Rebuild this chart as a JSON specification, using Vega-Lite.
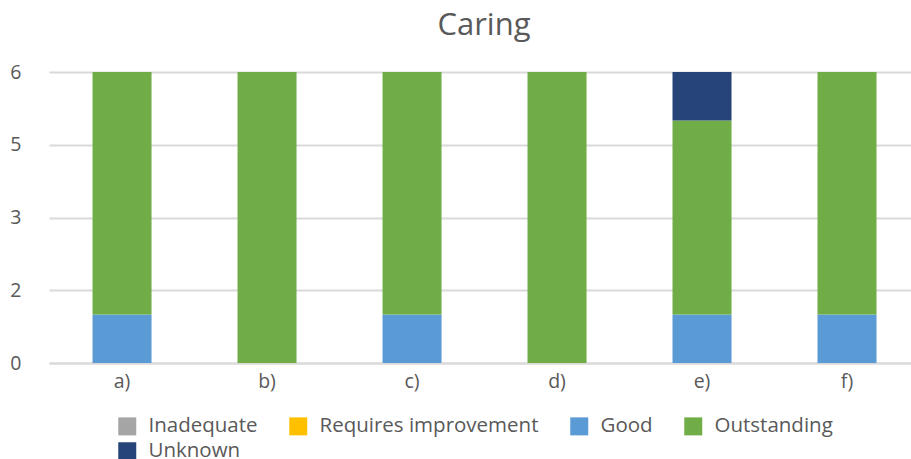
{
  "$schema": "https://vega.github.io/schema/vega-lite/v6.json",
  "width": 862,
  "height": 291,
  "autosize": {"type": "none"},
  "padding": {"left": 49, "top": 72, "right": 0, "bottom": 96},
  "background": "white",
  "title": {
    "text": "Caring",
    "font": "Open Sans",
    "fontSize": 31,
    "fontWeight": "normal",
    "color": "#595959",
    "anchor": "middle",
    "offset": 20,
    "dx": 4
  },
  "data": {
    "values": [
      {"item": "a)", "rating": "Good", "count": 1},
      {"item": "a)", "rating": "Outstanding", "count": 5},
      {"item": "b)", "rating": "Outstanding", "count": 6},
      {"item": "c)", "rating": "Good", "count": 1},
      {"item": "c)", "rating": "Outstanding", "count": 5},
      {"item": "d)", "rating": "Outstanding", "count": 6},
      {"item": "e)", "rating": "Good", "count": 1},
      {"item": "e)", "rating": "Outstanding", "count": 4},
      {"item": "e)", "rating": "Unknown", "count": 1},
      {"item": "f)", "rating": "Good", "count": 1},
      {"item": "f)", "rating": "Outstanding", "count": 5}
    ]
  },
  "mark": {"type": "bar"},
  "encoding": {
    "x": {
      "field": "item",
      "type": "nominal",
      "title": null,
      "scale": {"paddingInner": 0.593, "paddingOuter": 0.269, "align": 0.558},
      "axis": {
        "labelAngle": 0,
        "ticks": false,
        "domainColor": "#d9d9d9",
        "domainWidth": 2,
        "labelFont": "Open Sans",
        "labelFontSize": 19.5,
        "labelColor": "#595959",
        "labelPadding": 9
      }
    },
    "y": {
      "field": "count",
      "type": "quantitative",
      "aggregate": "sum",
      "stack": "zero",
      "title": null,
      "scale": {"domain": [0, 6], "nice": false},
      "axis": {
        "values": [0, 1.5, 3, 4.5, 6],
        "format": ".0f",
        "domain": false,
        "ticks": false,
        "gridColor": "#d9d9d9",
        "gridWidth": 2,
        "labelFont": "Open Sans",
        "labelFontSize": 19.5,
        "labelColor": "#595959",
        "labelPadding": 28
      }
    },
    "color": {
      "field": "rating",
      "type": "nominal",
      "sort": ["Inadequate", "Requires improvement", "Good", "Outstanding", "Unknown"],
      "scale": {
        "domain": ["Inadequate", "Requires improvement", "Good", "Outstanding", "Unknown"],
        "range": ["#a5a5a5", "#ffc000", "#5b9bd5", "#70ad47", "#264478"]
      },
      "legend": {
        "title": null,
        "orient": "none",
        "direction": "horizontal",
        "columns": 4,
        "legendX": 68,
        "legendY": 344,
        "padding": 0,
        "symbolType": "square",
        "symbolSize": 324,
        "symbolStrokeWidth": 0,
        "labelFont": "Open Sans",
        "labelFontSize": 20.5,
        "labelColor": "#595959",
        "labelOffset": 11,
        "columnPadding": 30,
        "rowPadding": 4,
        "labelLimit": 400
      }
    },
    "order": {"field": "rating", "sort": "ascending"}
  },
  "config": {"view": {"stroke": null}}
}
